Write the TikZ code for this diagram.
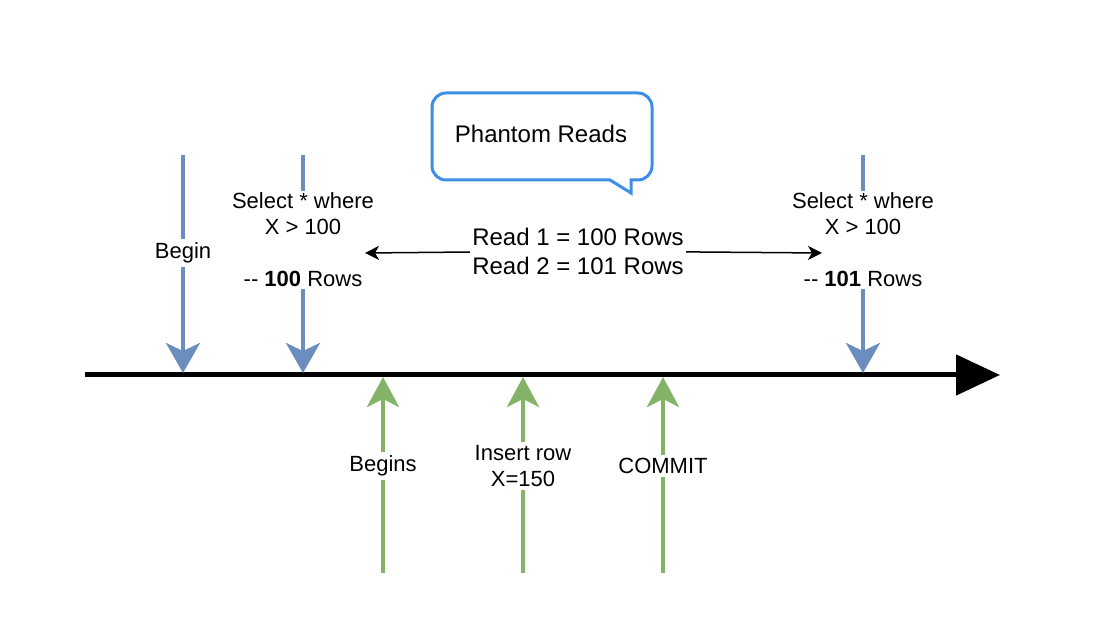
\documentclass[tikz,border=0pt]{standalone}
\usepackage{fontspec}
\setmainfont{Liberation Sans}
\usetikzlibrary{arrows.meta,positioning}
\definecolor{selblue}{HTML}{6C8EBF}
\definecolor{insgreen}{HTML}{82B366}
\definecolor{callblue}{HTML}{3D8FE6}

\begin{document}
\begin{tikzpicture}[x=0.5pt,y=-0.5pt,
  lbl/.style={font=\fontsize{11}{13}\selectfont,align=center,fill=white,inner sep=1.5pt},
  bigtext/.style={font=\fontsize{12}{14.5}\selectfont,align=center,fill=white,inner sep=1pt},
  selline/.style={line width=2pt,draw=selblue},
  selarrow/.style={selline,-{Stealth[length=15pt,width=17pt,inset=4pt]}},
  insline/.style={line width=2pt,draw=insgreen},
  insarrow/.style={insline,-{Stealth[length=15pt,width=16pt,inset=4pt]}},
  timeline/.style={line width=2.5pt,-{Triangle[length=22pt,width=20pt]}},
  readarrow/.style={line width=0.75pt,-{Stealth[length=7pt,width=7pt,inset=2pt]}},
  callout/.style={draw=callblue,line width=1.5pt,fill=white}]
  \useasboundingbox (0,0) rectangle (1116,642);

  % time line
  \coordinate (tl start) at (85,375);
  \coordinate (tl end) at (1000,375);
  \draw[timeline] (tl start) -- (tl end);

  % transaction 1 (reads)
  \coordinate (begin top) at (183,155);
  \coordinate (begin end) at (183,373);
  \node[lbl] (begin) at (183,253) {Begin};
  \draw[selline] (begin top) -- (begin);
  \draw[selarrow] (begin) -- (begin end);

  \coordinate (read1 top) at (303,155);
  \coordinate (read1 end) at (303,373);
  \node[lbl,inner sep=1pt] (read1) at (303,240) {Select * where\\X > 100\\[13pt]-{}- \textbf{100} Rows};
  \draw[selline] (read1 top) -- (read1);
  \draw[selarrow] (read1) -- (read1 end);

  \coordinate (read2 top) at (863,155);
  \coordinate (read2 end) at (863,373);
  \node[lbl,inner sep=1pt] (read2) at (863,240) {Select * where\\X > 100\\[13pt]-{}- \textbf{101} Rows};
  \draw[selline] (read2 top) -- (read2);
  \draw[selarrow] (read2) -- (read2 end);

  % transaction 2 (insert)
  \foreach \name/\x/\txt in {begins/383/Begins,insert/523/{Insert row\\X=150},commit/663/COMMIT}{
    \coordinate (\name\space bottom) at (\x,573);
    \coordinate (\name\space end) at (\x,377);
    \node[lbl] (\name) at (\x,466) {\txt};
    \draw[insline] (\name\space bottom) -- (\name);
    \draw[insarrow] (\name) -- (\name\space end);
  }

  % difference between reads
  \coordinate (diff left) at (365,253);
  \coordinate (diff right) at (822,253);
  \node[bigtext] (diff) at (578,251) {Read 1 = 100 Rows\\Read 2 = 101 Rows};
  \draw[readarrow] (diff) -- (diff left);
  \draw[readarrow] (diff) -- (diff right);

  % callout
  \draw[callout] (540,93) [rounded corners=7pt] -- (652,93) -- (652,180)
    [sharp corners] -- (631,180) -- (631,193) -- (610,180) [rounded corners=7pt] -- (432,180) -- (432,93) -- cycle;
  \node[bigtext,fill=none] (phantom) at (541,134) {Phantom Reads};
\end{tikzpicture}
\end{document}
